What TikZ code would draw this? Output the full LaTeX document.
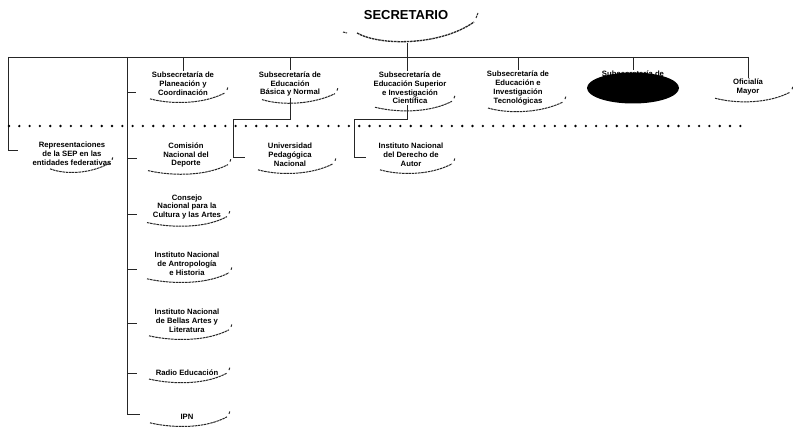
\documentclass[tikz,border=0pt]{standalone}
\usepackage{fontspec}
\setmainfont{Liberation Sans}
\usetikzlibrary{calc,shapes.geometric}
\tikzset{
 box/.style={font=\bfseries\fontsize{7.7}{8.8}\selectfont, align=center, inner sep=1pt},
 conn/.style={draw=black!85, line width=0.5pt},
 swl/.style={draw=black!85, line width=1pt, dash pattern=on 2.5pt off 0.7pt},
 dotrow/.style={draw=black, line width=2.6pt, line cap=round, dash pattern=on 0pt off 10.3pt},
}
\newcommand{\swsh}[3]{%
 \draw[swl] ($(#1.south)+(-#2,2)$) .. controls ($(#1.south)+(-0.3*#2,8)$) and ($(#1.south)+(0.5*#3,7)$) .. ($(#1.south)+(#3,-4)$);
 \draw[swl] ($(#1.south)+(#3+2,-7)$) -- ($(#1.south)+(#3+3,-10)$);}
\begin{document}
\begin{tikzpicture}[x=1pt,y=-1pt]
\fill[white] (0,0) rectangle (793,444);
\useasboundingbox (0,0) rectangle (793,444);
% nodes
\node[font=\bfseries\fontsize{13}{15}\selectfont, inner sep=1pt] (sec) at (406,15) {SECRETARIO};
\node[box] (plan) at (183,84) {Subsecretaría de\\Planeación y\\Coordinación};
\node[box] (basica) at (290,84) {Subsecretaría de\\Educación\\Básica y Normal};
\node[box] (superior) at (410,88) {Subsecretaría de\\Educación Superior\\e Investigación\\Científica};
\node[box] (tecno) at (518,88) {Subsecretaría de\\Educación e\\Investigación\\Tecnológicas};
\node[box] (hidden) at (633,74) {Subsecretaría de};
\node[fill=black, ellipse, minimum width=92pt, minimum height=31pt, inner sep=0pt] (blot) at (633,88) {};
\node[box] (ofi) at (748,87) {Oficialía\\Mayor};
\node[box] (repr) at (72,154) {Representaciones\\de la SEP en las\\entidades federativas};
\node[box] (comi) at (186,155) {Comisión\\Nacional del\\Deporte};
\node[box] (upn) at (290,155) {Universidad\\Pedagógica\\Nacional};
\node[box] (autor) at (411,155) {Instituto Nacional\\del Derecho de\\Autor};
\node[box] (cons) at (187,207) {Consejo\\Nacional para la\\Cultura y las Artes};
\node[box] (antro) at (187,264) {Instituto Nacional\\de Antropología\\e Historia};
\node[box] (bellas) at (187,321) {Instituto Nacional\\de Bellas Artes y\\Literatura};
\node[box] (radio) at (187,373) {Radio Educación};
\node[box] (ipn) at (187,417) {IPN};
% coordinates
\coordinate (secb) at (407,43);
\coordinate (tl) at (8,57);
\coordinate (tr) at (748,57);
\coordinate (colt) at (127,57);
\coordinate (rt) at (18,150);
\coordinate (tplan) at (136,92);
\coordinate (tcomi) at (137,158);
\coordinate (tcons) at (137,214);
\coordinate (tantro) at (137,269);
\coordinate (tbell) at (137,323);
\coordinate (tradio) at (137,373);
\coordinate (tipn) at (140,414);
\coordinate (bk) at (233,119);
\coordinate (tupn) at (245,157);
\coordinate (ak) at (354,119);
\coordinate (taut) at (366,157);
\coordinate (dl) at (9,126);
\coordinate (dr) at (750,126);
% connectors
\draw[conn] (tl) -- (tr);
\draw[conn] (secb) -- (secb |- superior.north);
\draw[conn] (plan.north |- tl) -- (plan.north);
\draw[conn] (basica.north |- tl) -- (basica.north);
\draw[conn] (tecno.north |- tl) -- (tecno.north);
\draw[conn] (blot.north |- tl) -- (hidden.north);
\draw[conn] (ofi.north |- tl) -- (ofi.north);
\draw[conn] (tl) |- (rt);
\draw[conn] (colt) |- (tipn);
\foreach \t in {tplan,tcomi,tcons,tantro,tbell,tradio} \draw[conn] (colt |- \t) -- (\t);
\draw[conn] (basica.south) |- (bk) |- (tupn);
\draw[conn] (secb |- superior.south) |- (ak) |- (taut);
\draw[dotrow] (dl) -- (dr);
% swooshes
\draw[swl] (343,32) -- (347,33);
\draw[swl, line width=1.3pt] (357,33) .. controls (380,46) and (440,46) .. (474,22);
\draw[swl] (476,18) -- (478,13);
\swsh{plan}{33}{42}
\swsh{basica}{28}{45}
\swsh{superior}{35}{42}
\swsh{tecno}{30}{45}
\swsh{ofi}{33}{42}
\swsh{repr}{22}{38}
\swsh{comi}{38}{42}
\swsh{upn}{32}{43}
\swsh{autor}{31}{41}
\swsh{cons}{40}{40}
\swsh{antro}{40}{42}
\swsh{bellas}{38}{42}
\swsh{radio}{38}{40}
\swsh{ipn}{37}{40}
\end{tikzpicture}
\end{document}
